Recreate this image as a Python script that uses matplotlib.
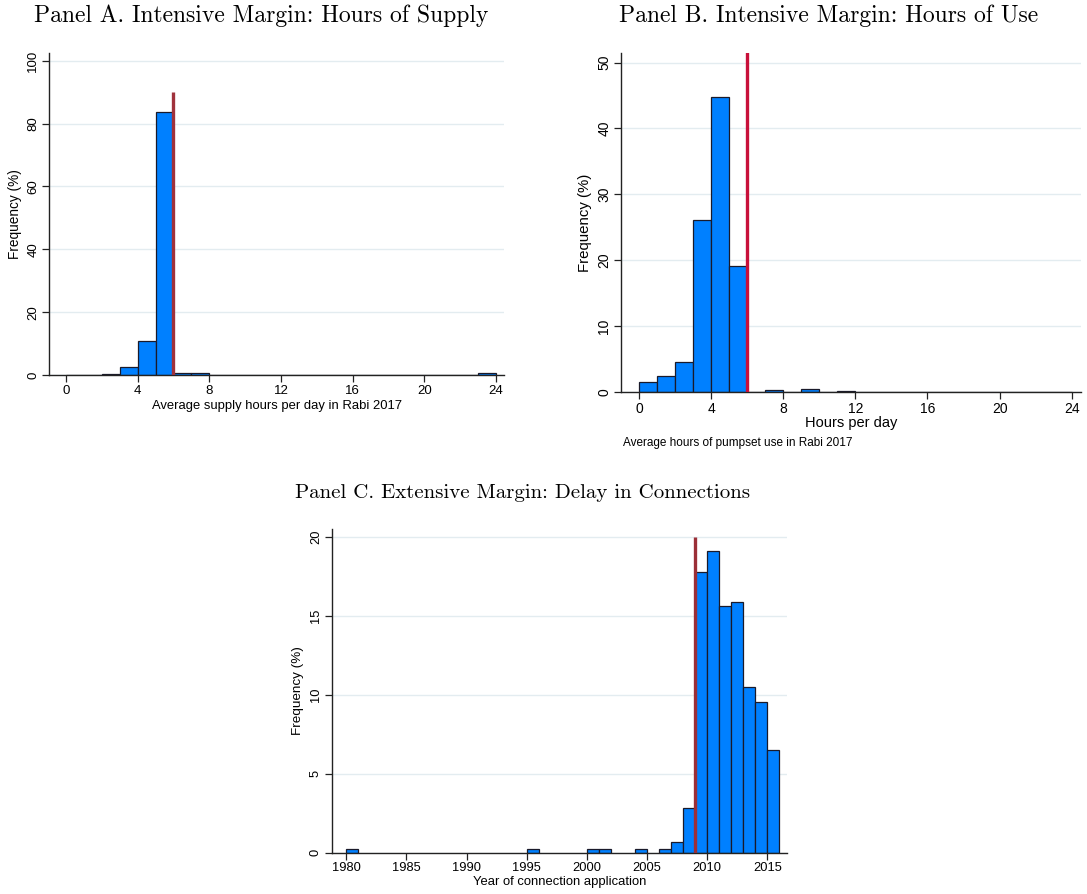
import numpy as np
import matplotlib
matplotlib.use("Agg")
import matplotlib.pyplot as plt

# ---------------- data ----------------
supply_bins = list(range(0, 24))
supply_freq = [0.15, 0, 0.3, 2.7, 10.9, 83.7, 0.6, 0.6, 0.15, 0.15, 0, 0.1,
               0, 0, 0.1, 0.1, 0.1, 0.1, 0, 0.1, 0, 0.1, 0, 0.65]

use_bins = list(range(0, 24))
use_freq = [1.5, 2.4, 4.6, 26.1, 44.8, 19.2, 0.12, 0.3, 0.06, 0.45, 0.06, 0.15,
            0, 0, 0.12, 0.06, 0, 0.12, 0, 0.1, 0, 0, 0, 0.06]

years = [1980, 1995, 2000, 2001, 2004, 2006, 2007, 2008, 2009, 2010,
         2011, 2012, 2013, 2014, 2015]
year_freq = [0.22, 0.22, 0.22, 0.22, 0.22, 0.22, 0.68, 2.8, 17.76, 19.13,
             15.64, 15.88, 10.49, 9.56, 6.53]

supply_ticks = [0, 4, 8, 12, 16, 20, 24]
supply_yticks = [0, 20, 40, 60, 80, 100]
use_ticks = [0, 4, 8, 12, 16, 20, 24]
use_yticks = [0, 10, 20, 30, 40, 50]
year_ticks = [1980, 1985, 1990, 1995, 2000, 2005, 2010, 2015]
year_yticks = [0, 5, 10, 15, 20]

threshold_hours = 6
threshold_year = 2009
supply_line_top = 90
year_line_top = 20

# ---------------- style ----------------
plt.rcParams['font.family'] = ['Liberation Sans', 'DejaVu Sans']
BAR = '#0080ff'
EDGE = '#1a1a2a'
GRID = '#e3ecf0'
SPINE = '#222222'

fig = plt.figure(figsize=(10.87, 8.94), dpi=100)
W, H = 1087, 894


def ax_at(left, right, top, bottom):
    return fig.add_axes([left / W, 1 - bottom / H, (right - left) / W, (bottom - top) / H])


def style(ax, xt, yt, xlim, ylim, fs=9.5):
    ax.set_xlim(*xlim)
    ax.set_ylim(*ylim)
    ax.set_xticks(xt)
    ax.set_yticks(yt)
    for s in ['top', 'right']:
        ax.spines[s].set_visible(False)
    for s in ['left', 'bottom']:
        ax.spines[s].set_color(SPINE)
        ax.spines[s].set_linewidth(1.0)
    ax.tick_params(axis='both', direction='out', length=5, width=0.9,
                   color=SPINE, labelsize=fs, pad=2)
    ax.tick_params(axis='y', labelrotation=90)
    for lab in ax.get_yticklabels():
        lab.set_va('center')
    ax.yaxis.grid(True, color=GRID, linewidth=1.0)
    ax.set_axisbelow(True)


# Panel A
axA = ax_at(49, 504, 52.6, 375)
axA.bar(supply_bins, supply_freq, width=1, align='edge', color=BAR,
        edgecolor=EDGE, linewidth=0.9)
axA.vlines(threshold_hours, 0, supply_line_top, color='#a0323c', linewidth=2.4, zorder=5)
style(axA, supply_ticks, supply_yticks, (-0.95, 24.45), (0, 102.6))
axA.set_xlabel('Average supply hours per day in Rabi 2017', fontsize=9.4, labelpad=2)
axA.set_ylabel('Frequency (%)', fontsize=9.8, labelpad=4)
fig.text(261 / W, 1 - 16 / H, 'Panel A. Intensive Margin: Hours of Supply',
         ha='center', va='center', family='cmr10', size=17)

# Panel B
axB = ax_at(621, 1080.7, 53.3, 392.3)
axB.bar(use_bins, use_freq, width=1, align='edge', color=BAR,
        edgecolor=EDGE, linewidth=0.9)
axB.axvline(threshold_hours, color='#c8103a', linewidth=2.4, zorder=5)
style(axB, use_ticks, use_yticks, (-1.0, 24.5), (0, 51.4), fs=10)
axB.set_xlabel('Hours per day', fontsize=10.5, labelpad=0)
axB.set_ylabel('Frequency (%)', fontsize=10.8, labelpad=4)
fig.text(623 / W, 1 - 443 / H, 'Average hours of pumpset use in Rabi 2017',
         ha='left', va='center', fontsize=8.5)
fig.text(829 / W, 1 - 16 / H, 'Panel B. Intensive Margin: Hours of Use',
         ha='center', va='center', family='cmr10', size=17)

# Panel C
axC = ax_at(331.7, 786.7, 529, 852.7)
axC.bar(years, year_freq, width=1, align='edge', color=BAR,
        edgecolor=EDGE, linewidth=0.9)
axC.vlines(threshold_year, 0, year_line_top, color='#9b2f37', linewidth=2.4, zorder=5)
style(axC, year_ticks, year_yticks, (1978.8, 2016.6), (0, 20.5), fs=9.3)
axC.set_xlabel('Year of connection application', fontsize=9.4, labelpad=1)
axC.set_ylabel('Frequency (%)', fontsize=9.7, labelpad=4)
fig.text(522.5 / W, 1 - 493 / H, 'Panel C. Extensive Margin: Delay in Connections',
         ha='center', va='center', family='cmr10', size=15)

fig.savefig('out.png', dpi=100)
